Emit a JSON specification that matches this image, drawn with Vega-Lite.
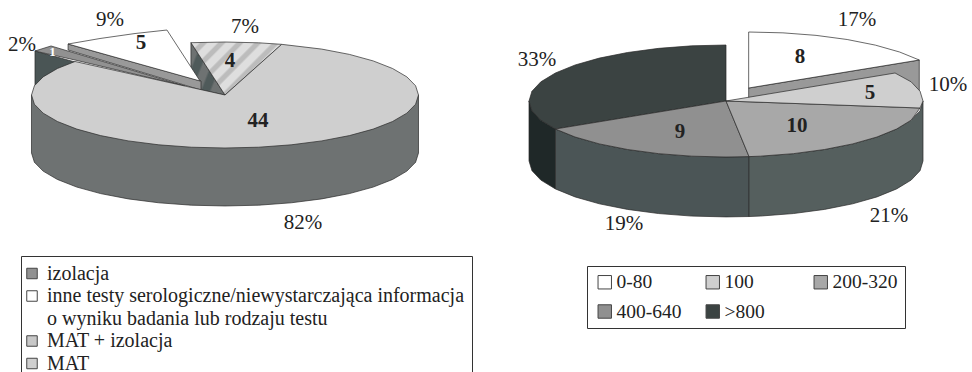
{
"$schema":"https://vega.github.io/schema/vega-lite/v6.json",
"width":972,"height":372,"padding":0,"autosize":"none","background":"white",
"config":{"view":{"stroke":null},"text":{"font":"Liberation Serif"},
 "legend":{"title":null,"orient":"none","labelFont":"Liberation Serif","labelColor":"#222","labelFontSize":20,"labelLimit":460,"symbolType":"square","symbolStrokeColor":"#444","symbolStrokeWidth":1,"strokeColor":"#333","fillColor":"white"}},
"datasets":{
"leftShapes":[
{"slice":"MAT + izolacja bok","u":-0.176,"v":0.987},{"slice":"MAT + izolacja bok","u":0,"v":0},{"slice":"MAT + izolacja bok","u":-0.124,"v":0.094},{"slice":"MAT + izolacja bok","u":-0.176,"v":0.283},{"slice":"MAT + izolacja bok","u":-0.176,"v":0.987},
{"slice":"MAT + izolacja","u":0,"v":0},{"slice":"MAT + izolacja","u":-0.176,"v":0.987},{"slice":"MAT + izolacja","u":0,"v":1},{"slice":"MAT + izolacja","u":0.174,"v":0.985},{"slice":"MAT + izolacja","u":0.293,"v":0.956},{"slice":"MAT + izolacja","u":0,"v":0},
{"slice":"izolacja bok","u":-0.982,"v":0.83},{"slice":"izolacja bok","u":-0.982,"v":0},{"slice":"izolacja bok","u":-0.5,"v":0},{"slice":"izolacja bok","u":-0.775,"v":0.623},{"slice":"izolacja bok","u":-0.982,"v":0.83},
{"slice":"izolacja","u":-0.982,"v":0.83},{"slice":"izolacja","u":-0.899,"v":0.925},{"slice":"izolacja","u":-0.207,"v":0.17},{"slice":"izolacja","u":-0.775,"v":0.66},{"slice":"izolacja","u":-0.982,"v":0.83},
{"slice":"inne bok","u":-0.811,"v":0.962},{"slice":"inne bok","u":-0.811,"v":0.849},{"slice":"inne bok","u":-0.124,"v":0.094},{"slice":"inne bok","u":-0.124,"v":0.264},{"slice":"inne bok","u":-0.811,"v":0.962},
{"slice":"inne testy serologiczne/niewystarczająca informacja","u":-0.811,"v":0.962},{"slice":"inne testy serologiczne/niewystarczająca informacja","u":-0.646,"v":1.066},{"slice":"inne testy serologiczne/niewystarczająca informacja","u":-0.465,"v":1.16},{"slice":"inne testy serologiczne/niewystarczająca informacja","u":-0.3,"v":1.226},{"slice":"inne testy serologiczne/niewystarczająca informacja","u":-0.129,"v":0.264},{"slice":"inne testy serologiczne/niewystarczająca informacja","u":-0.811,"v":0.962},
{"slice":"MAT bok","u":-1,"v":0},{"slice":"MAT bok","u":-1,"v":-1.094},{"slice":"MAT bok","u":-0.985,"v":-1.268},{"slice":"MAT bok","u":-0.94,"v":-1.436},{"slice":"MAT bok","u":-0.866,"v":-1.594},{"slice":"MAT bok","u":-0.766,"v":-1.737},{"slice":"MAT bok","u":-0.643,"v":-1.86},{"slice":"MAT bok","u":-0.5,"v":-1.96},{"slice":"MAT bok","u":-0.342,"v":-2.034},{"slice":"MAT bok","u":-0.174,"v":-2.079},{"slice":"MAT bok","u":0,"v":-2.094},{"slice":"MAT bok","u":0.174,"v":-2.079},{"slice":"MAT bok","u":0.342,"v":-2.034},{"slice":"MAT bok","u":0.5,"v":-1.96},{"slice":"MAT bok","u":0.643,"v":-1.86},{"slice":"MAT bok","u":0.766,"v":-1.737},{"slice":"MAT bok","u":0.866,"v":-1.594},{"slice":"MAT bok","u":0.94,"v":-1.436},{"slice":"MAT bok","u":0.985,"v":-1.268},{"slice":"MAT bok","u":1,"v":-1.094},{"slice":"MAT bok","u":1,"v":0},{"slice":"MAT bok","u":-1,"v":0},
{"slice":"MAT","u":0,"v":0},{"slice":"MAT","u":0.293,"v":0.956},{"slice":"MAT","u":0.5,"v":0.866},{"slice":"MAT","u":0.643,"v":0.766},{"slice":"MAT","u":0.766,"v":0.643},{"slice":"MAT","u":0.866,"v":0.5},{"slice":"MAT","u":0.94,"v":0.342},{"slice":"MAT","u":0.985,"v":0.174},{"slice":"MAT","u":1,"v":0},{"slice":"MAT","u":0.985,"v":-0.174},{"slice":"MAT","u":0.94,"v":-0.342},{"slice":"MAT","u":0.866,"v":-0.5},{"slice":"MAT","u":0.766,"v":-0.643},{"slice":"MAT","u":0.643,"v":-0.766},{"slice":"MAT","u":0.5,"v":-0.866},{"slice":"MAT","u":0.342,"v":-0.94},{"slice":"MAT","u":0.174,"v":-0.985},{"slice":"MAT","u":0,"v":-1},{"slice":"MAT","u":-0.174,"v":-0.985},{"slice":"MAT","u":-0.342,"v":-0.94},{"slice":"MAT","u":-0.5,"v":-0.866},{"slice":"MAT","u":-0.643,"v":-0.766},{"slice":"MAT","u":-0.766,"v":-0.643},{"slice":"MAT","u":-0.866,"v":-0.5},{"slice":"MAT","u":-0.94,"v":-0.342},{"slice":"MAT","u":-0.985,"v":-0.174},{"slice":"MAT","u":-1,"v":0},{"slice":"MAT","u":-0.985,"v":0.174},{"slice":"MAT","u":-0.94,"v":0.342},{"slice":"MAT","u":-0.866,"v":0.5},{"slice":"MAT","u":-0.775,"v":0.632},{"slice":"MAT","u":0,"v":0}
],
"rightShapes":[
{"slice":"0-80 bok","u":0.115,"v":0.232},{"slice":"0-80 bok","u":0.981,"v":0.732},{"slice":"0-80 bok","u":0.981,"v":0.1},{"slice":"0-80 bok","u":0.115,"v":0.05},{"slice":"0-80 bok","u":0.115,"v":0.232},
{"slice":"0-80","u":0.115,"v":0.232},{"slice":"0-80","u":0.981,"v":0.732},{"slice":"0-80","u":0.881,"v":0.875},{"slice":"0-80","u":0.758,"v":0.998},{"slice":"0-80","u":0.615,"v":1.098},{"slice":"0-80","u":0.457,"v":1.172},{"slice":"0-80","u":0.289,"v":1.217},{"slice":"0-80","u":0.115,"v":1.232},{"slice":"0-80","u":0.115,"v":0.232},
{"slice":">800 bok","u":-1,"v":0},{"slice":">800 bok","u":-0.985,"v":-0.174},{"slice":">800 bok","u":-0.94,"v":-0.342},{"slice":">800 bok","u":-0.866,"v":-0.5},{"slice":">800 bok","u":-0.866,"v":-1.57},{"slice":">800 bok","u":-0.94,"v":-1.412},{"slice":">800 bok","u":-0.985,"v":-1.244},{"slice":">800 bok","u":-1,"v":-1.07},{"slice":">800 bok","u":-1,"v":0},
{"slice":"400-640 bok","u":-0.866,"v":-0.5},{"slice":"400-640 bok","u":-0.766,"v":-0.643},{"slice":"400-640 bok","u":-0.643,"v":-0.766},{"slice":"400-640 bok","u":-0.5,"v":-0.866},{"slice":"400-640 bok","u":-0.342,"v":-0.94},{"slice":"400-640 bok","u":-0.174,"v":-0.985},{"slice":"400-640 bok","u":0,"v":-1},{"slice":"400-640 bok","u":0.117,"v":-0.993},{"slice":"400-640 bok","u":0.117,"v":-2.063},{"slice":"400-640 bok","u":0,"v":-2.07},{"slice":"400-640 bok","u":-0.174,"v":-2.055},{"slice":"400-640 bok","u":-0.342,"v":-2.01},{"slice":"400-640 bok","u":-0.5,"v":-1.936},{"slice":"400-640 bok","u":-0.643,"v":-1.836},{"slice":"400-640 bok","u":-0.766,"v":-1.713},{"slice":"400-640 bok","u":-0.866,"v":-1.57},{"slice":"400-640 bok","u":-0.866,"v":-0.5},
{"slice":"200-320 bok","u":0.117,"v":-0.993},{"slice":"200-320 bok","u":0.174,"v":-0.985},{"slice":"200-320 bok","u":0.342,"v":-0.94},{"slice":"200-320 bok","u":0.5,"v":-0.866},{"slice":"200-320 bok","u":0.643,"v":-0.766},{"slice":"200-320 bok","u":0.766,"v":-0.643},{"slice":"200-320 bok","u":0.866,"v":-0.5},{"slice":"200-320 bok","u":0.94,"v":-0.342},{"slice":"200-320 bok","u":0.985,"v":-0.174},{"slice":"200-320 bok","u":1,"v":0},{"slice":"200-320 bok","u":1,"v":-1.07},{"slice":"200-320 bok","u":0.985,"v":-1.244},{"slice":"200-320 bok","u":0.94,"v":-1.412},{"slice":"200-320 bok","u":0.866,"v":-1.57},{"slice":"200-320 bok","u":0.766,"v":-1.713},{"slice":"200-320 bok","u":0.643,"v":-1.836},{"slice":"200-320 bok","u":0.5,"v":-1.936},{"slice":"200-320 bok","u":0.342,"v":-2.01},{"slice":"200-320 bok","u":0.174,"v":-2.055},{"slice":"200-320 bok","u":0.117,"v":-2.063},{"slice":"200-320 bok","u":0.117,"v":-0.993},
{"slice":">800","u":0,"v":0},{"slice":">800","u":0,"v":1},{"slice":">800","u":-0.174,"v":0.985},{"slice":">800","u":-0.342,"v":0.94},{"slice":">800","u":-0.5,"v":0.866},{"slice":">800","u":-0.643,"v":0.766},{"slice":">800","u":-0.766,"v":0.643},{"slice":">800","u":-0.866,"v":0.5},{"slice":">800","u":-0.94,"v":0.342},{"slice":">800","u":-0.985,"v":0.174},{"slice":">800","u":-1,"v":0},{"slice":">800","u":-0.985,"v":-0.174},{"slice":">800","u":-0.94,"v":-0.342},{"slice":">800","u":-0.866,"v":-0.5},{"slice":">800","u":0,"v":0},
{"slice":"400-640","u":0,"v":0},{"slice":"400-640","u":-0.866,"v":-0.5},{"slice":"400-640","u":-0.766,"v":-0.643},{"slice":"400-640","u":-0.643,"v":-0.766},{"slice":"400-640","u":-0.5,"v":-0.866},{"slice":"400-640","u":-0.342,"v":-0.94},{"slice":"400-640","u":-0.174,"v":-0.985},{"slice":"400-640","u":0,"v":-1},{"slice":"400-640","u":0.117,"v":-0.993},{"slice":"400-640","u":0,"v":0},
{"slice":"200-320","u":0,"v":0},{"slice":"200-320","u":0.117,"v":-0.993},{"slice":"200-320","u":0.174,"v":-0.985},{"slice":"200-320","u":0.342,"v":-0.94},{"slice":"200-320","u":0.5,"v":-0.866},{"slice":"200-320","u":0.643,"v":-0.766},{"slice":"200-320","u":0.766,"v":-0.643},{"slice":"200-320","u":0.866,"v":-0.5},{"slice":"200-320","u":0.94,"v":-0.342},{"slice":"200-320","u":0.985,"v":-0.125},{"slice":"200-320","u":0,"v":0},
{"slice":"100","u":0,"v":0},{"slice":"100","u":0.985,"v":-0.125},{"slice":"100","u":1,"v":0},{"slice":"100","u":0.985,"v":0.174},{"slice":"100","u":0.94,"v":0.342},{"slice":"100","u":0.858,"v":0.5},{"slice":"100","u":0,"v":0}
],
"leftLabels":[
{"slice":"MAT","count":44,"share":"82%","uc":0.171,"vc":-0.491,"us":0.403,"vs":-2.415},
{"slice":"inne testy","count":5,"share":"9%","uc":-0.434,"vc":0.981,"us":-0.594,"vs":1.415},
{"slice":"MAT + izolacja","count":4,"share":"7%","uc":0.026,"vc":0.642,"us":0.103,"vs":1.283},
{"slice":"izolacja","count":1,"share":"2%","uc":-0.891,"vc":0.811,"us":-1.049,"vs":0.943}
],
"rightLabels":[
{"slice":"0-80","count":8,"share":"17%","uc":0.376,"vc":0.786,"us":0.665,"vs":1.446},
{"slice":"100","count":5,"share":"10%","uc":0.731,"vc":0.143,"us":1.127,"vs":0.286},
{"slice":"200-320","count":10,"share":"21%","uc":0.36,"vc":-0.446,"us":0.827,"vs":-2.054},
{"slice":"400-640","count":9,"share":"19%","uc":-0.234,"vc":-0.554,"us":-0.518,"vs":-2.196},
{"slice":">800","count":18,"share":"33%","us":-0.959,"vs":0.732}
]
},
"resolve":{"scale":{"x":"independent","y":"independent","fill":"independent"}},
"layer":[
{"layer":[
 {"data":{"name":"leftShapes"},"transform":[{"filter":"datum.slice === 'MAT + izolacja bok'"}],
  "mark":{"type":"line","stroke":"#2a2a2a","strokeWidth":0.7,"strokeJoin":"round",
   "fill":{"gradient":"linear","x1":0,"y1":0,"x2":1,"y2":0.6,"stops":[{"offset":0,"color":"#6e7272"},{"offset":0.2,"color":"#6e7272"},{"offset":0.25,"color":"#4f5a5a"},{"offset":0.4,"color":"#4f5a5a"},{"offset":0.45,"color":"#6e7272"},{"offset":0.6,"color":"#6e7272"},{"offset":0.65,"color":"#4f5a5a"},{"offset":0.8,"color":"#4f5a5a"},{"offset":0.85,"color":"#6e7272"},{"offset":1,"color":"#6e7272"}]}},
  "encoding":{
   "x":{"field":"u","type":"quantitative","axis":null,"scale":{"domain":[-1.1628,3.8605],"zero":false,"nice":false}},
   "y":{"field":"v","type":"quantitative","axis":null,"scale":{"domain":[-5.2264,1.7925],"zero":false,"nice":false}},
   "order":{"value":null}}},
 {"data":{"name":"leftShapes"},"transform":[{"filter":"datum.slice === 'MAT + izolacja'"}],
  "mark":{"type":"line","stroke":"#2a2a2a","strokeWidth":0.7,"strokeJoin":"round",
   "fill":{"gradient":"linear","x1":0,"y1":0,"x2":1,"y2":0.578,"stops":[{"offset":0,"color":"#dedede"},{"offset":0.07,"color":"#dedede"},{"offset":0.09,"color":"#bcbcbc"},{"offset":0.13,"color":"#bcbcbc"},{"offset":0.15,"color":"#dedede"},{"offset":0.22,"color":"#dedede"},{"offset":0.24,"color":"#bcbcbc"},{"offset":0.28,"color":"#bcbcbc"},{"offset":0.3,"color":"#dedede"},{"offset":0.37,"color":"#dedede"},{"offset":0.39,"color":"#bcbcbc"},{"offset":0.43,"color":"#bcbcbc"},{"offset":0.45,"color":"#dedede"},{"offset":0.52,"color":"#dedede"},{"offset":0.54,"color":"#bcbcbc"},{"offset":0.58,"color":"#bcbcbc"},{"offset":0.6,"color":"#dedede"},{"offset":0.67,"color":"#dedede"},{"offset":0.69,"color":"#bcbcbc"},{"offset":0.73,"color":"#bcbcbc"},{"offset":0.75,"color":"#dedede"},{"offset":0.82,"color":"#dedede"},{"offset":0.84,"color":"#bcbcbc"},{"offset":0.88,"color":"#bcbcbc"},{"offset":0.9,"color":"#dedede"},{"offset":1,"color":"#dedede"}]}},
  "encoding":{
   "x":{"field":"u","type":"quantitative","axis":null,"scale":{"domain":[-1.1628,3.8605],"zero":false,"nice":false}},
   "y":{"field":"v","type":"quantitative","axis":null,"scale":{"domain":[-5.2264,1.7925],"zero":false,"nice":false}},
   "order":{"value":null}}},
 {"data":{"name":"leftShapes"},"transform":[{"filter":"datum.slice !== 'MAT + izolacja' && datum.slice !== 'MAT + izolacja bok'"}],
  "mark":{"type":"line","stroke":"#2a2a2a","strokeWidth":0.7,"strokeJoin":"round"},
  "encoding":{
   "x":{"field":"u","type":"quantitative","axis":null,"scale":{"domain":[-1.1628,3.8605],"zero":false,"nice":false}},
   "y":{"field":"v","type":"quantitative","axis":null,"scale":{"domain":[-5.2264,1.7925],"zero":false,"nice":false}},
   "order":{"value":null},
   "fill":{"field":"slice","type":"nominal",
    "scale":{"domain":["izolacja","inne testy serologiczne/niewystarczająca informacja","o wyniku badania lub rodzaju testu","MAT + izolacja","MAT","izolacja bok","inne bok","MAT bok"],
     "range":["#919191","#ffffff","transparent","#c8c8c8","#cfcfcf","#4a5555","#999999","#6e7272"]},
    "legend":{"values":["izolacja","inne testy serologiczne/niewystarczająca informacja","o wyniku badania lub rodzaju testu","MAT + izolacja","MAT"],
     "legendX":21,"legendY":256,"padding":7.5,"columns":1,"symbolSize":110,"symbolOffset":-6.5,"rowPadding":2.5,"labelOffset":5,
     "encode":{"symbols":{"update":{
      "stroke":{"signal":"datum.value === 'o wyniku badania lub rodzaju testu' ? 'transparent' : '#444'"},
      "fill":{"signal":"datum.value === 'MAT + izolacja' ? {gradient:'linear',x1:0,y1:1,x2:1,y2:0,stops:[{offset:0,color:'#888888'},{offset:1,color:'#eeeeee'}]} : datum.value === 'izolacja' ? '#919191' : datum.value === 'MAT' ? '#cfcfcf' : '#ffffff'"}}}}}
   }}},
 {"data":{"name":"leftLabels"},
  "mark":{"type":"text","fontWeight":"bold","baseline":"middle"},
  "encoding":{
   "x":{"field":"uc","type":"quantitative","axis":null,"scale":{"domain":[-1.1628,3.8605],"zero":false,"nice":false}},
   "y":{"field":"vc","type":"quantitative","axis":null,"scale":{"domain":[-5.2264,1.7925],"zero":false,"nice":false}},
   "text":{"field":"count","type":"quantitative"},
   "size":{"condition":{"test":"datum.count === 1","value":13},"value":21},
   "color":{"condition":{"test":"datum.count === 1","value":"#ffffff"},"value":"#222222"}
  }},
 {"data":{"name":"leftLabels"},
  "mark":{"type":"text","fontSize":21,"baseline":"middle","color":"#222"},
  "encoding":{
   "x":{"field":"us","type":"quantitative","axis":null,"scale":{"domain":[-1.1628,3.8605],"zero":false,"nice":false}},
   "y":{"field":"vs","type":"quantitative","axis":null,"scale":{"domain":[-5.2264,1.7925],"zero":false,"nice":false}},
   "text":{"field":"share","type":"nominal"}
  }}
]},
{"layer":[
 {"data":{"name":"rightShapes"},
  "mark":{"type":"line","stroke":"#2a2a2a","strokeWidth":0.7,"strokeJoin":"round"},
  "encoding":{
   "x":{"field":"u","type":"quantitative","axis":null,"scale":{"domain":[-3.6853,1.2487],"zero":false,"nice":false}},
   "y":{"field":"v","type":"quantitative","axis":null,"scale":{"domain":[-4.8393,1.8036],"zero":false,"nice":false}},
   "order":{"value":null},
   "fill":{"field":"slice","type":"nominal",
    "scale":{"domain":["0-80","100","200-320","400-640",">800","0-80 bok","200-320 bok","400-640 bok",">800 bok"],
     "range":["#ffffff","#cfcfcf","#a8a8a8","#909090","#3b4342","#999999","#555f5e","#4b5556","#1f2828"]},
    "legend":{"values":["0-80","100","200-320","400-640",">800"],
     "legendX":587,"legendY":266,"padding":7,"columns":3,"direction":"horizontal","gridAlign":"all","labelFontSize":19.5,"symbolSize":180,"symbolOffset":1,"clipHeight":18,"rowPadding":9.5,"columnPadding":20,"labelOffset":2}
   }}},
 {"data":{"name":"rightLabels"},"transform":[{"filter":"isValid(datum.uc)"}],
  "mark":{"type":"text","fontWeight":"bold","fontSize":21,"baseline":"middle","color":"#222"},
  "encoding":{
   "x":{"field":"uc","type":"quantitative","axis":null,"scale":{"domain":[-3.6853,1.2487],"zero":false,"nice":false}},
   "y":{"field":"vc","type":"quantitative","axis":null,"scale":{"domain":[-4.8393,1.8036],"zero":false,"nice":false}},
   "text":{"field":"count","type":"quantitative"}
  }},
 {"data":{"name":"rightLabels"},
  "mark":{"type":"text","fontSize":21,"baseline":"middle","color":"#222"},
  "encoding":{
   "x":{"field":"us","type":"quantitative","axis":null,"scale":{"domain":[-3.6853,1.2487],"zero":false,"nice":false}},
   "y":{"field":"vs","type":"quantitative","axis":null,"scale":{"domain":[-4.8393,1.8036],"zero":false,"nice":false}},
   "text":{"field":"share","type":"nominal"}
  }}
]}
]
}
